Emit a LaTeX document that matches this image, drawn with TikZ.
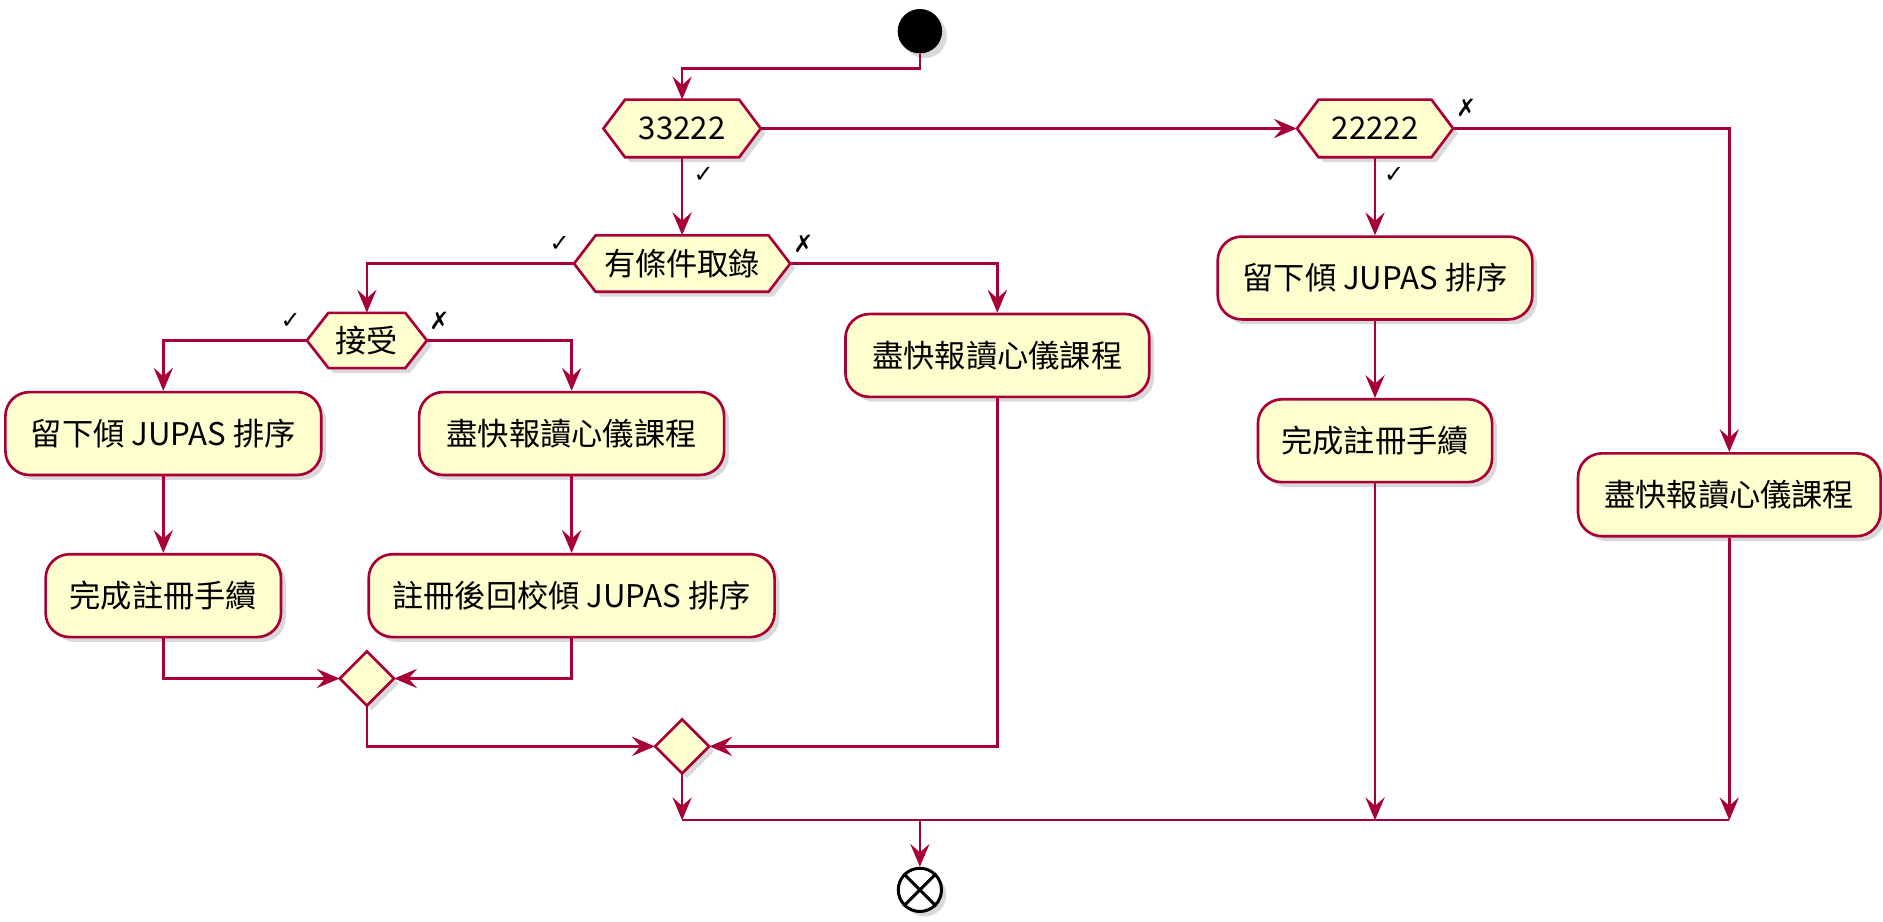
\documentclass[tikz,border=0pt]{standalone}
\usepackage{fontspec}
\setmainfont{Noto Sans CJK TC}
\newfontfamily\symfont{DejaVu Sans}
\usetikzlibrary{arrows.meta,shadows}
\definecolor{pbord}{HTML}{A80036}
\definecolor{pfill}{HTML}{FEFECE}
\tikzset{
  conn/.style={draw=pbord, line width=2pt, -{Stealth[length=19pt,width=16pt,inset=7pt]}},
  wire/.style={draw=pbord, line width=2pt},
  shad/.style={drop shadow={shadow xshift=4pt, shadow yshift=-4pt, opacity=0.3}},
  actbox/.style={rectangle, rounded corners=20pt, draw=pbord, fill=pfill, line width=2.2pt,
    minimum height=69pt, inner sep=0pt, font=\fontsize{26}{30}\selectfont, shad},
  hexshape/.style={draw=pbord, fill=pfill, line width=2.2pt, shad},
  hexframe/.style={rectangle, inner sep=0pt, font=\fontsize{26}{30}\selectfont},
  lbl/.style={font=\symfont\fontsize{20}{24}\selectfont, inner sep=0pt},
}
\newcommand\myhex[6]{%
  \path[hexshape] ({#2-#4/2},#3) -- ({#2-#4/2+18},{#3-#5/2}) -- ({#2+#4/2-18},{#3-#5/2})
    -- ({#2+#4/2},#3) -- ({#2+#4/2-18},{#3+#5/2}) -- ({#2-#4/2+18},{#3+#5/2}) -- cycle;
  \node[hexframe, minimum width=#4pt, minimum height=#5pt] (#1) at (#2,#3) {#6};}
\newcommand\mydiam[4]{%
  \path[hexshape] ({#2-#4/2},#3) -- (#2,{#3-#4/2}) -- ({#2+#4/2},#3) -- (#2,{#3+#4/2}) -- cycle;
  \node[rectangle, inner sep=0pt, minimum width=#4pt, minimum height=#4pt] (#1) at (#2,#3) {};}
\begin{document}
\begin{tikzpicture}[x=1pt,y=-1pt]
\useasboundingbox (0,0) rectangle (1568,767);
% start / end
\node[circle, fill=black, minimum size=37pt, inner sep=0pt, shad] (start) at (766,26) {};
\node[circle, draw=black, fill=white, line width=2.5pt, minimum size=36pt, inner sep=0pt, shad] (end) at (766,741) {};
\draw[line width=2.5pt] (end.north west) -- (end.south east) (end.north east) -- (end.south west);
% decisions
\myhex{h1}{568}{107}{131}{48}{33222}
\myhex{h2}{1145}{107}{130}{48}{22222}
\myhex{h3}{568}{219.5}{180}{47}{有條件取錄}
\myhex{h4}{305.5}{283.5}{100}{46}{接受}
\mydiam{d1}{305.5}{565}{45}
\mydiam{d2}{568}{621.5}{45}
% actions
\node[actbox, minimum width=263pt] (b1) at (136,361) {留下傾 JUPAS 排序};
\node[actbox, minimum width=254pt] (b2) at (476,361) {盡快報讀心儀課程};
\node[actbox, minimum width=253pt] (b3) at (830.5,296) {盡快報讀心儀課程};
\node[actbox, minimum width=196pt] (b4) at (136,496) {完成註冊手續};
\node[actbox, minimum width=338pt] (b5) at (476,496) {註冊後回校傾 JUPAS 排序};
\node[actbox, minimum width=262pt] (b6) at (1145,231.5) {留下傾 JUPAS 排序};
\node[actbox, minimum width=195pt] (b7) at (1145,367) {完成註冊手續};
\node[actbox, minimum width=252pt] (b8) at (1440,412) {盡快報讀心儀課程};
% labels
\node[lbl] (l1) at (586,146) {✓};
\node[lbl] (l2) at (466,203) {✓};
\node[lbl] (l3) at (669,203) {✗};
\node[lbl] (l4) at (242,267) {✓};
\node[lbl] (l5) at (366,267) {✗};
\node[lbl] (l6) at (1221,90) {✗};
\node[lbl] (l7) at (1161,146) {✓};
% junction coordinates
\coordinate (c0) at (766,57);
\coordinate (m1) at (568,683);
\coordinate (m2) at (1145,683);
\coordinate (m3) at (1440,683);
\coordinate (mE) at (766,683);
% connectors
\draw[conn] (start.south) -- (c0) -| (h1.north);
\draw[conn] (h1.east) -- (h2.west);
\draw[conn] (h1.south) -- (h3.north);
\draw[conn] (h3.west) -| (h4.north);
\draw[conn] (h3.east) -| (b3.north);
\draw[conn] (h4.west) -| (b1.north);
\draw[conn] (h4.east) -| (b2.north);
\draw[conn] (b1.south) -- (b4.north);
\draw[conn] (b2.south) -- (b5.north);
\draw[conn] (b4.south) |- (d1.west);
\draw[conn] (b5.south) |- (d1.east);
\draw[conn] (d1.south) |- (d2.west);
\draw[conn] (b3.south) |- (d2.east);
\draw[conn] (d2.south) -- (m1);
\draw[conn] (h2.south) -- (b6.north);
\draw[conn] (b6.south) -- (b7.north);
\draw[conn] (b7.south) -- (m2);
\draw[conn] (h2.east) -| (b8.north);
\draw[conn] (b8.south) -- (m3);
\draw[wire] (m1) -- (m3);
\draw[conn] (mE) -- (end.north);
\end{tikzpicture}
\end{document}
